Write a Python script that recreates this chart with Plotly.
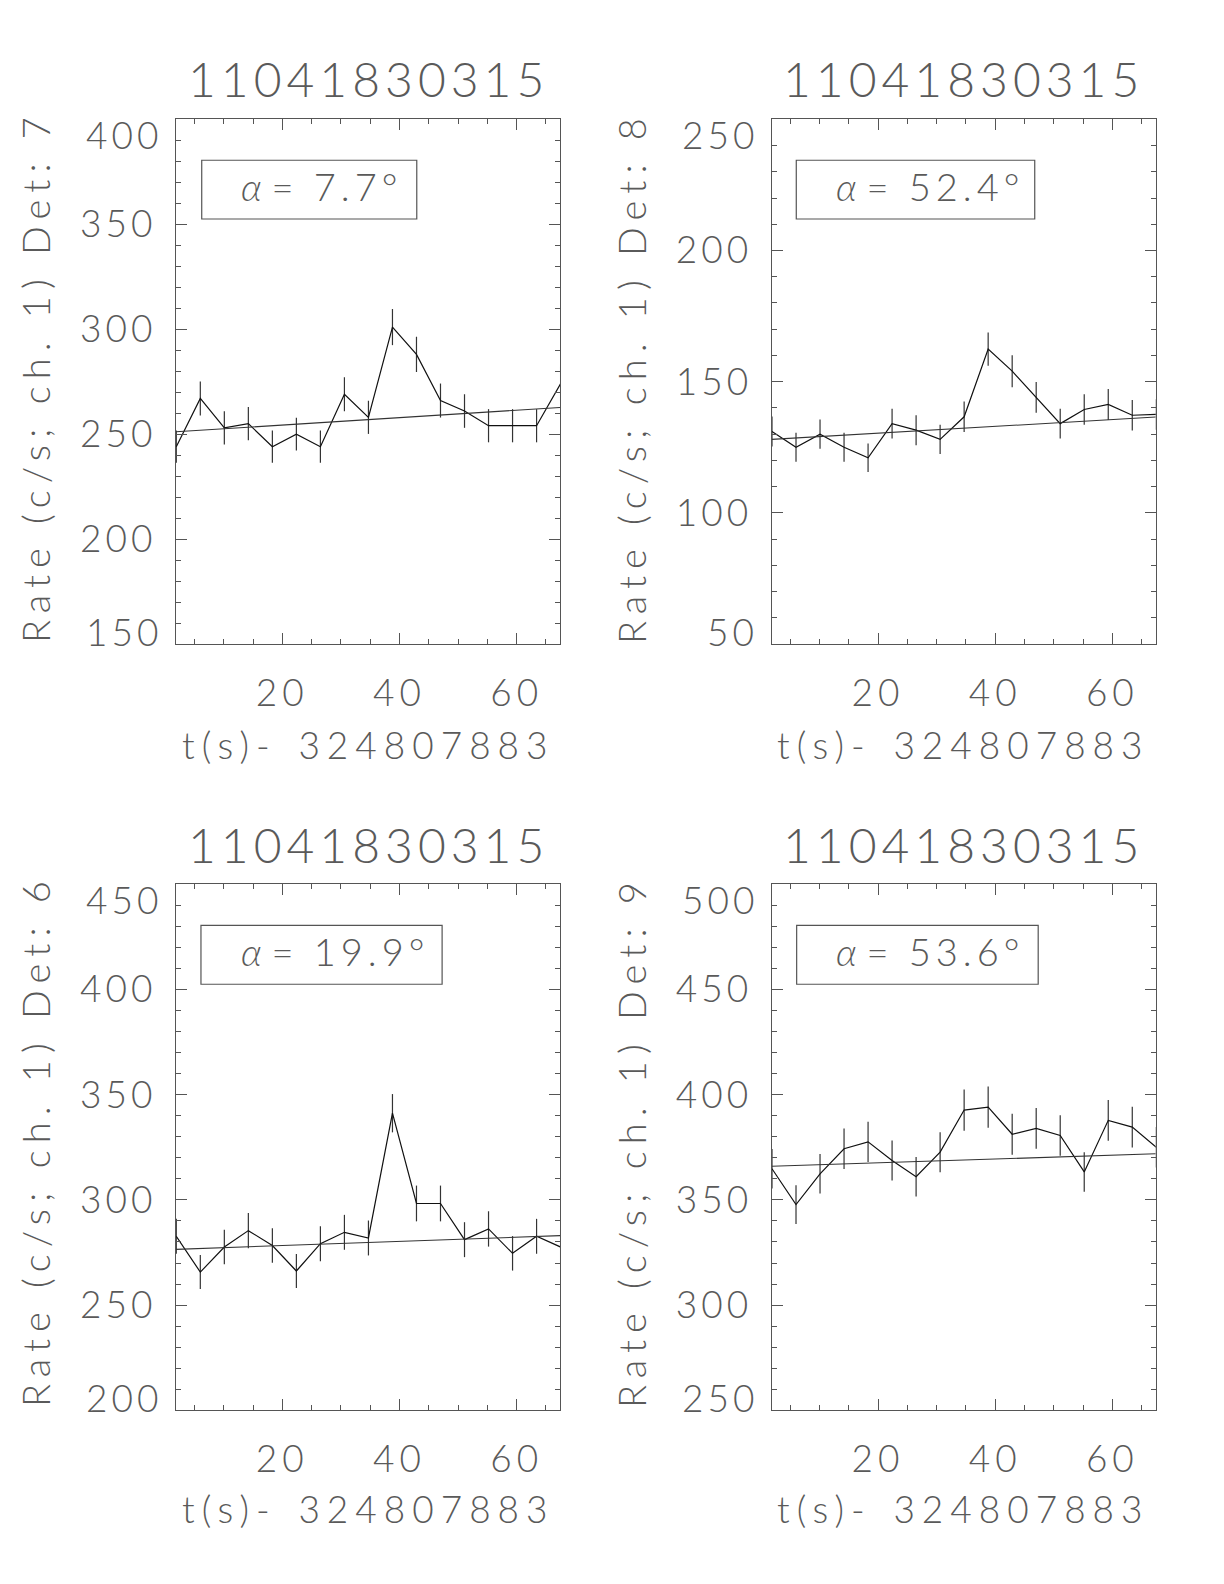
import plotly.graph_objects as go

# ---------------- data ----------------
t = [1.9, 6.0, 10.1, 14.2, 18.3, 22.4, 26.5, 30.6, 34.7, 38.8,
     42.9, 47.0, 51.1, 55.2, 59.3, 63.4, 67.5]

rate_det7 = [244, 267, 253, 255, 244, 250, 244, 269, 258, 301,
             288, 266, 261, 254, 254, 254, 274]
err_det7 = [7.7, 8.1, 7.9, 7.9, 7.7, 7.8, 7.7, 8.1, 7.9, 8.6,
            8.4, 8.1, 8.0, 7.9, 7.9, 7.9, 8.2]
fit_det7 = [251.1, 262.7]

rate_det8 = [131, 125, 130, 125, 121, 134, 131.5, 128, 136.6, 162.4,
             154, 144, 134, 139.4, 141.3, 137.2, 137.5]
err_det8 = [5.7, 5.5, 5.6, 5.5, 5.4, 5.7, 5.7, 5.6, 5.8, 6.3,
            6.1, 5.9, 5.7, 5.8, 5.9, 5.8, 5.8]
fit_det8 = [128.0, 136.5]

rate_det6 = [282.7, 265.7, 277.6, 285.4, 278.3, 266.2, 279.2, 284.6, 281.9, 341.2,
             298.3, 298.3, 281.1, 286.2, 274.6, 282.7, 277.6]
err_det6 = [8.3, 8.1, 8.2, 8.4, 8.2, 8.1, 8.3, 8.3, 8.3, 9.1,
            8.5, 8.5, 8.3, 8.4, 8.2, 8.3, 8.2]
fit_det6 = [276.5, 283.0]

rate_det9 = [364.8, 347.8, 362.4, 374.3, 377.6, 368.7, 361.0, 372.7, 392.7, 394.1,
             381.2, 384.0, 380.6, 363.3, 387.8, 384.6, 375.0]
err_det9 = [9.4, 9.2, 9.4, 9.6, 9.6, 9.5, 9.4, 9.5, 9.8, 9.8,
            9.7, 9.7, 9.6, 9.4, 9.7, 9.7, 9.6]
fit_det9 = [366.0, 371.9]

fit_t = [1.85, 67.4]
x_range = [1.85, 67.4]

panels = [
    dict(det="7", alpha="7.7", rate=rate_det7, err=err_det7, fit=fit_det7,
         yr=[150, 400], ymaj=50, ymin=10, box=[0.067, 0.627]),
    dict(det="8", alpha="52.4", rate=rate_det8, err=err_det8, fit=fit_det8,
         yr=[50, 250], ymaj=50, ymin=10, box=[0.064, 0.685]),
    dict(det="6", alpha="19.9", rate=rate_det6, err=err_det6, fit=fit_det6,
         yr=[200, 450], ymaj=50, ymin=10, box=[0.065, 0.693]),
    dict(det="9", alpha="53.6", rate=rate_det9, err=err_det9, fit=fit_det9,
         yr=[250, 500], ymaj=50, ymin=10, box=[0.065, 0.694]),
]
title_text = "11041830315"
xlabel_left = "t(s)- "
xlabel_right = "324807883"
x_tickvals = [20, 40, 60]

# ---------------- layout geometry ----------------
W, H = 1224, 1584
xdoms = [[176 / W, 560 / W], [771.7 / W, 1155.7 / W]]
ydoms = [[1 - 644 / H, 1 - 119.3 / H], [1 - 1410.3 / H, 1 - 884.3 / H]]

FONT = "Lato"
TXT = "#5a5a5a"
AX = "#555555"
WEIGHT = 300


def sp(s, px):
    return '<span style="letter-spacing:%dpx">%s</span>' % (px, s)


fig = go.Figure()
annotations = []
shapes = []

for i, p in enumerate(panels):
    r, c = divmod(i, 2)
    n = "" if i == 0 else str(i + 1)
    xa, ya = "x" + n, "y" + n
    fig.add_trace(go.Scatter(
        x=t, y=p["rate"], mode="lines", xaxis=xa, yaxis=ya,
        line=dict(color="#111111", width=1.2),
        error_y=dict(type="data", array=p["err"], visible=True,
                     color="#333333", thickness=1.2, width=0),
        showlegend=False, hoverinfo="skip"))
    fig.add_trace(go.Scatter(
        x=fit_t, y=p["fit"], mode="lines", xaxis=xa, yaxis=ya,
        line=dict(color="#333333", width=1.1),
        showlegend=False, hoverinfo="skip"))

    yt = list(range(p["yr"][0], p["yr"][1] + 1, p["ymaj"]))
    ytxt = [""] + [sp(str(v), 4) for v in yt[1:-1]] + [""]
    common = dict(showline=True, linecolor=AX, linewidth=1.2, mirror="ticks",
                  ticks="inside", ticklen=11, tickwidth=1.1, tickcolor=AX,
                  showgrid=False, zeroline=False,
                  tickfont=dict(family=FONT, size=37, color=TXT, weight=WEIGHT))
    fig.layout["xaxis" + n] = dict(
        common, domain=xdoms[c], anchor=ya, range=x_range,
        tickmode="array", tickvals=x_tickvals,
        ticktext=[sp(str(v), 5) for v in x_tickvals],
        ticklabelstandoff=16,
        minor=dict(ticks="inside", ticklen=5, tickwidth=1.1, tickcolor=AX, dtick=5))
    fig.layout["yaxis" + n] = dict(
        common, domain=ydoms[r], anchor=xa, range=p["yr"],
        tickmode="array", tickvals=yt, ticktext=ytxt,
        ticklabelstandoff=11,
        minor=dict(ticks="inside", ticklen=5, tickwidth=1.1, tickcolor=AX,
                   dtick=p["ymin"]))

    # end tick labels, pulled inward as in the reference
    for v, shift in [(yt[0], 13), (yt[-1], -15)]:
        annotations.append(dict(
            xref=xa + " domain", yref=ya, x=0, y=v, xanchor="right",
            yanchor="middle", xshift=-12, yshift=shift, showarrow=False,
            text=sp(str(v), 4),
            font=dict(family=FONT, size=37, color=TXT, weight=WEIGHT)))

    xc = (xdoms[c][0] + xdoms[c][1]) / 2
    # title
    annotations.append(dict(
        xref="paper", yref="paper", x=xc, y=1 - (79 if r == 0 else 844) / H,
        xanchor="center", yanchor="middle", showarrow=False,
        text=sp(title_text, 5),
        font=dict(family=FONT, size=48, color=TXT, weight=WEIGHT)))
    # x label
    annotations.append(dict(
        xref="paper", yref="paper", x=xc, y=1 - (744 if r == 0 else 1508) / H,
        xanchor="center", yanchor="middle", showarrow=False,
        text=sp(xlabel_left, 7) + "\u2009" + sp(xlabel_right, 7),
        font=dict(family=FONT, size=37, color=TXT, weight=WEIGHT)))
    # y label
    annotations.append(dict(
        xref="paper", yref="paper", x=(35 if c == 0 else 631) / W,
        y=1 - (377 if r == 0 else 1141) / H,
        xanchor="center", yanchor="middle", showarrow=False, textangle=-90,
        text=sp("Rate (c/s; ch. 1) Det: " + p["det"], 7),
        font=dict(family=FONT, size=38, color=TXT, weight=WEIGHT)))
    # alpha box
    shapes.append(dict(
        type="rect", xref=xa + " domain", yref=ya + " domain",
        x0=p["box"][0], x1=p["box"][1], y0=0.81, y1=0.922,
        line=dict(color=AX, width=1.2)))
    annotations.append(dict(
        xref=xa + " domain", yref=ya + " domain", x=0.163, y=0.873,
        xanchor="left", yanchor="middle", showarrow=False,
        text="<i>α</i>" + sp("\u2009= ", 5) + sp(p["alpha"] + "°", 5),
        font=dict(family=FONT, size=38, color=TXT, weight=WEIGHT)))

fig.update_layout(
    width=W, height=H, margin=dict(l=0, r=0, t=0, b=0),
    paper_bgcolor="white", plot_bgcolor="white",
    annotations=annotations, shapes=shapes, showlegend=False)

fig.write_html("out.html", config={"displayModeBar": False},
               post_script="document.body.style.margin='0';")
